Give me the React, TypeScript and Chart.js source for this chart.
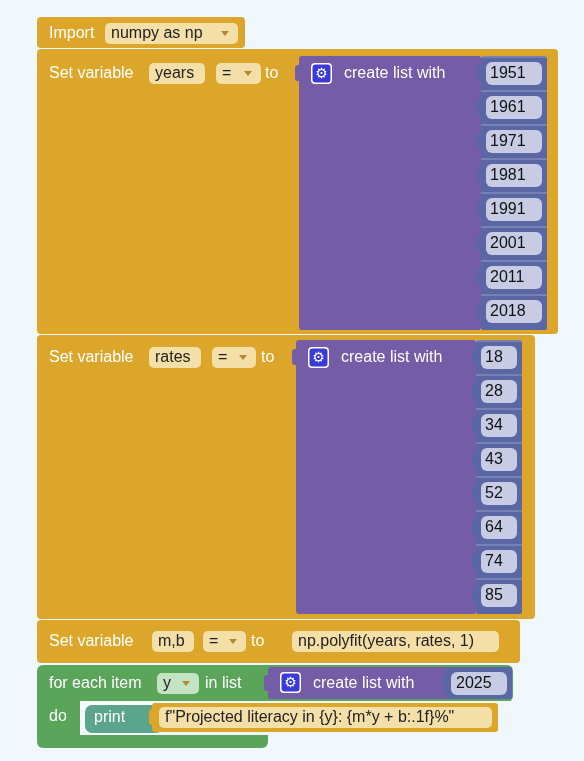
import React, { useEffect, useRef } from "react";
import { Chart, registerables } from "chart.js";
Chart.register(...registerables);

const years = [1951, 1961, 1971, 1981, 1991, 2001, 2011, 2018];
const rates = [18, 28, 34, 43, 52, 64, 74, 85];
const loopList = [2025];

const GOLD = "#dba629";
const PURPLE = "#745ca6";
const ITEM = "#5b67a5";
const NUMF = "#c7cce4";
const TAN = "#f4dfa8";
const GREEN = "#5ba55b";
const TEAL = "#5ba58c";
const FONT = '16px "Liberation Sans", Arial, sans-serif';

function rr(ctx: CanvasRenderingContext2D, x: number, y: number, w: number, h: number, r: number, fill: string) {
  ctx.beginPath();
  ctx.roundRect(x, y, w, h, r);
  ctx.fillStyle = fill;
  ctx.fill();
}
function txt(ctx: CanvasRenderingContext2D, s: string, x: number, y: number, c = "#fff") {
  ctx.fillStyle = c;
  ctx.font = FONT;
  ctx.textBaseline = "middle";
  ctx.textAlign = "left";
  ctx.fillText(s, x, y + 1);
}
function field(ctx: CanvasRenderingContext2D, s: string, x: number, y: number, w: number, bg = TAN, dd = false) {
  rr(ctx, x, y - 10, w, 21, 5, bg);
  txt(ctx, s, x + 6, y, "#222");
  if (dd) {
    ctx.fillStyle = "#b08a30";
    ctx.beginPath();
    ctx.moveTo(x + w - 17, y - 2);
    ctx.lineTo(x + w - 9, y - 2);
    ctx.lineTo(x + w - 13, y + 3);
    ctx.fill();
  }
}
function gear(ctx: CanvasRenderingContext2D, x: number, y: number) {
  rr(ctx, x, y, 21, 21, 4, "#fff");
  rr(ctx, x + 1.5, y + 1.5, 18, 18, 3, "#3a3ad6");
  ctx.fillStyle = "#fff";
  ctx.font = '14px "DejaVu Sans"';
  ctx.textAlign = "center";
  ctx.textBaseline = "middle";
  ctx.fillText("⚙", x + 10.5, y + 11);
}
function notch(ctx: CanvasRenderingContext2D, x: number, y: number, c: string) {
  ctx.fillStyle = c;
  ctx.beginPath();
  ctx.roundRect(x - 6, y - 8, 8, 16, 3);
  ctx.fill();
}
function listBlock(ctx: CanvasRenderingContext2D, x: number, top: number, colX: number, right: number, vals: number[], fw: number) {
  const bottom = top + 34 * vals.length + 2;
  rr(ctx, x, top, colX - x, bottom - top, 3, PURPLE);
  rr(ctx, colX, top, right - colX, bottom - top, 2, ITEM);
  notch(ctx, x + 2, top + 17, PURPLE);
  gear(ctx, x + 12, top + 7);
  txt(ctx, "create list with", x + 45, top + 17);
  vals.forEach((v, i) => {
    const cy = top + 17 + 34 * i;
    ctx.strokeStyle = "rgba(255,255,255,0.35)";
    ctx.beginPath();
    ctx.moveTo(colX, top + 34 * i + 1);
    ctx.lineTo(right, top + 34 * i + 1);
    ctx.stroke();
    notch(ctx, colX + 2, cy, ITEM);
    rr(ctx, colX + 5, cy - 11, fw, 23, 6, NUMF);
    txt(ctx, String(v), colX + 9, cy, "#111");
  });
}

const blockPlugin = {
  id: "blocks",
  beforeDraw(chart: any) {
    const ctx: CanvasRenderingContext2D = chart.ctx;
    ctx.save();
    ctx.fillStyle = "#f0f7fd";
    ctx.fillRect(0, 0, chart.width, chart.height);
    // import
    rr(ctx, 37, 17, 208, 31, 4, GOLD);
    txt(ctx, "Import", 49, 33);
    field(ctx, "numpy as np", 105, 33, 133, TAN, true);
    // years
    rr(ctx, 37, 49, 521, 285, 4, GOLD);
    txt(ctx, "Set variable", 49, 73);
    field(ctx, "years", 149, 73, 56);
    field(ctx, "=", 216, 73, 45, TAN, true);
    txt(ctx, "to", 265, 73);
    listBlock(ctx, 299, 56, 481, 547, years, 56);
    // rates
    rr(ctx, 37, 335, 498, 284, 4, GOLD);
    txt(ctx, "Set variable", 49, 357);
    field(ctx, "rates", 149, 357, 52);
    field(ctx, "=", 212, 357, 44, TAN, true);
    txt(ctx, "to", 261, 357);
    listBlock(ctx, 296, 340, 476, 522, rates, 36);
    // m,b
    rr(ctx, 37, 620, 483, 43, 4, GOLD);
    txt(ctx, "Set variable", 49, 641);
    field(ctx, "m,b", 152, 641, 42);
    field(ctx, "=", 203, 641, 43, TAN, true);
    txt(ctx, "to", 251, 641);
    rr(ctx, 285, 625, 221, 33, 3, GOLD);
    notch(ctx, 287, 641, GOLD);
    field(ctx, "np.polyfit(years, rates, 1)", 292, 641, 207);
    // for each
    rr(ctx, 37, 665, 476, 37, 6, GREEN);
    rr(ctx, 37, 690, 231, 58, 6, GREEN);
    txt(ctx, "for each item", 49, 683);
    field(ctx, "y", 157, 683, 42, "#c3e3c3", true);
    txt(ctx, "in list", 205, 683);
    rr(ctx, 268, 667, 244, 32, 3, PURPLE);
    rr(ctx, 446, 667, 66, 32, 2, ITEM);
    notch(ctx, 270, 683, PURPLE);
    gear(ctx, 280, 672);
    txt(ctx, "create list with", 313, 683);
    notch(ctx, 448, 683, ITEM);
    rr(ctx, 451, 672, 56, 23, 6, NUMF);
    txt(ctx, String(loopList[0]), 456, 683, "#111");
    txt(ctx, "do", 49, 716);
    ctx.fillStyle = "#f0f7fd";
    ctx.fillRect(80, 701, 430, 34);
    ctx.fillRect(268, 701, 250, 40);
    rr(ctx, 83, 703, 80, 31, 8, "#fff");
    rr(ctx, 85, 705, 78, 28, 7, TEAL);
    txt(ctx, "print", 94, 717);
    rr(ctx, 152, 703, 346, 29, 3, GOLD);
    notch(ctx, 155, 717, GOLD);
    field(ctx, 'f"Projected literacy in {y}: {m*y + b:.1f}%"', 159, 717, 333);
    ctx.restore();
  },
};

export default function App() {
  const ref = useRef<HTMLCanvasElement>(null);
  useEffect(() => {
    document.body.style.margin = "0";
    const chart = new Chart(ref.current!, {
      type: "scatter",
      data: { datasets: [{ data: years.map((y, i) => ({ x: y, y: rates[i] })), pointRadius: 0 }] },
      options: {
        animation: false,
        responsive: false,
        events: [],
        scales: { x: { display: false }, y: { display: false } },
        plugins: { legend: { display: false }, tooltip: { enabled: false } },
      },
      plugins: [blockPlugin],
    });
    return () => chart.destroy();
  }, []);
  return <canvas ref={ref} width={584} height={761} style={{ display: "block", width: 584, height: 761 }} />;
}
